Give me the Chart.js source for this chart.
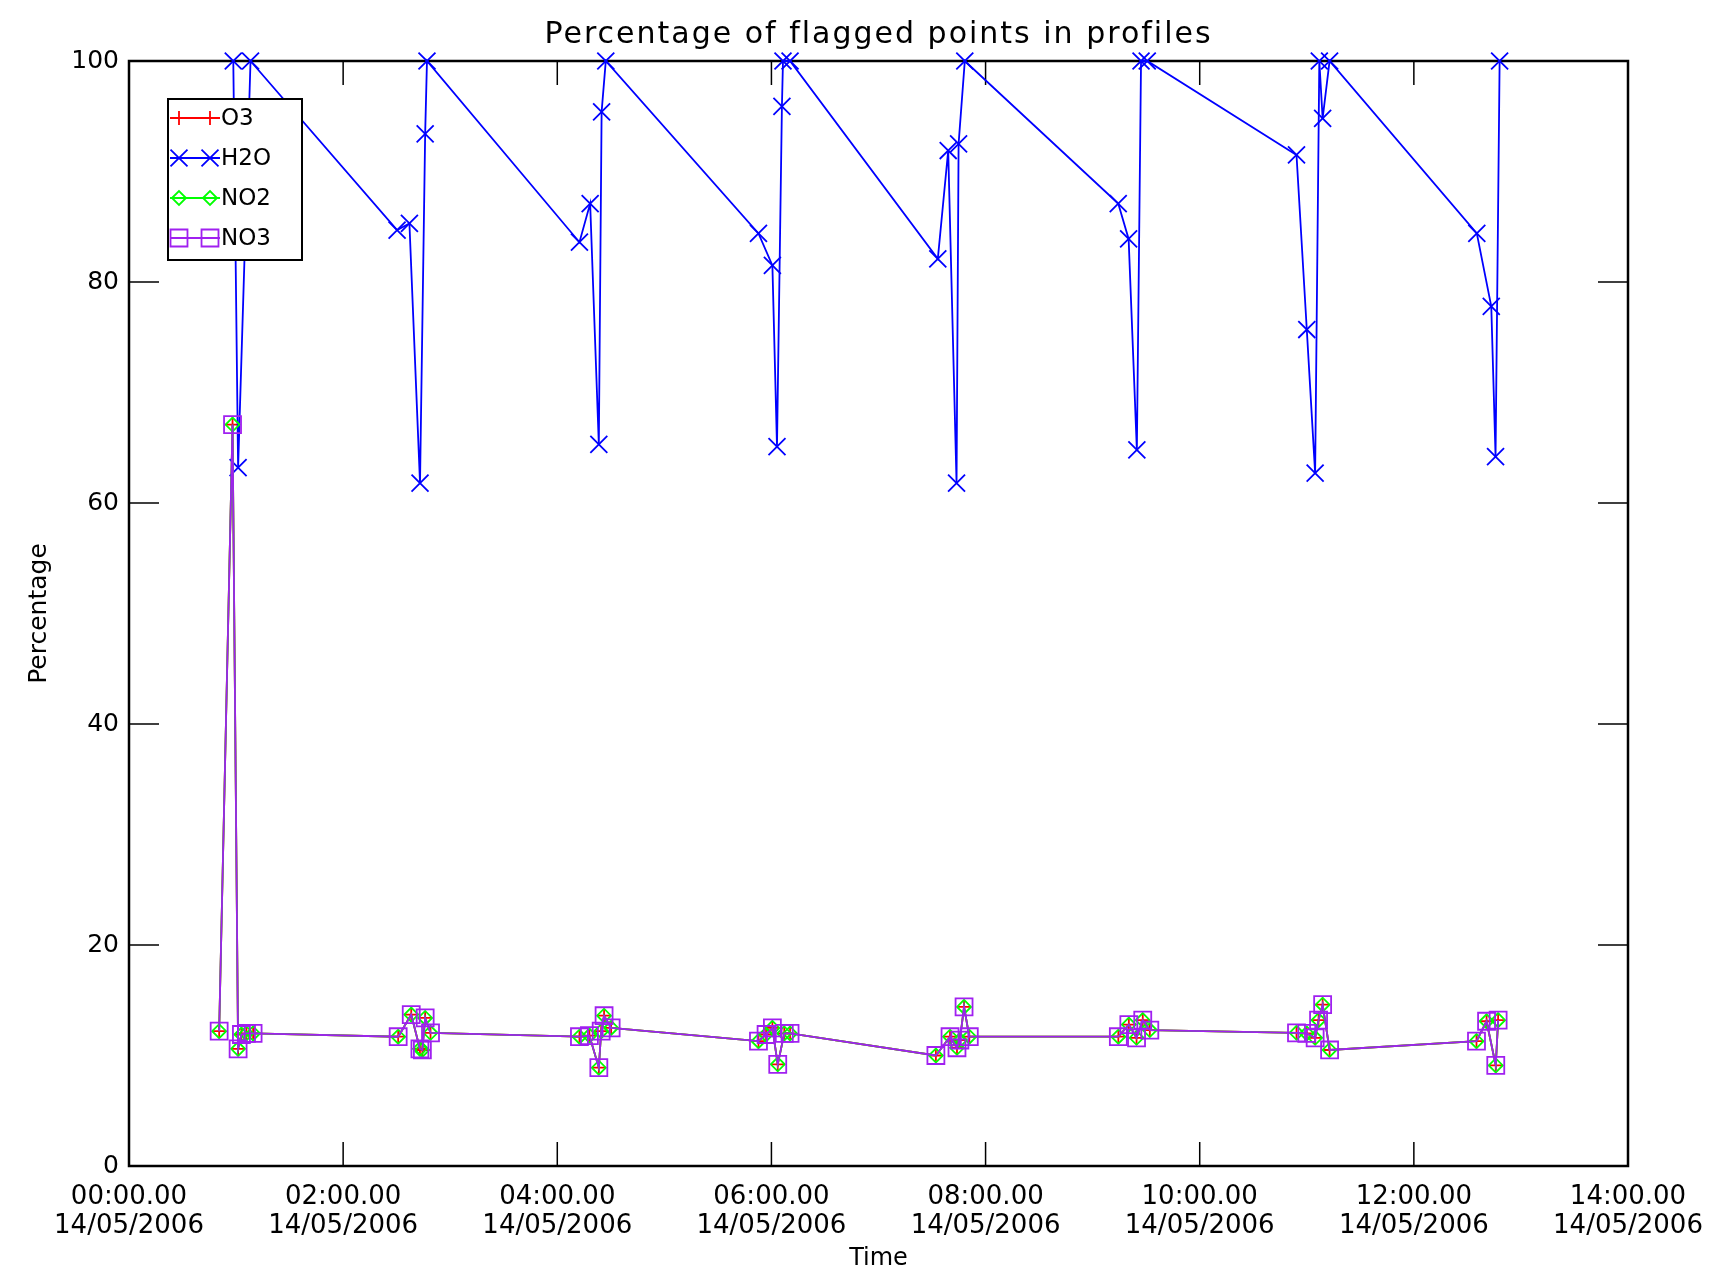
<!DOCTYPE html>
<html>
<head>
<meta charset="utf-8">
<title>Percentage of flagged points in profiles</title>
<script src="https://cdn.jsdelivr.net/npm/chart.js@4.4.1/dist/chart.umd.min.js"></script>
<style>
    html, body { margin: 0; padding: 0; background: #fff; }
    #grafico { display: block; }
</style>
</head>
<body>
<canvas id="grafico" width="1732" height="1281"></canvas>
<script>
/* --- DATA (hours after 00:00 on 14/05/2006) --- */
const h2oHours = [
    0.974, 1.019, 1.135,
    2.504, 2.619, 2.718, 2.766, 2.783,
    4.207, 4.307, 4.388, 4.414, 4.453,
    5.879, 6.009, 6.052, 6.098, 6.108, 6.174,
    7.554, 7.651, 7.729, 7.748, 7.806,
    9.239, 9.336, 9.413, 9.452, 9.510,
    10.904, 11.000, 11.078, 11.117, 11.148, 11.213,
    12.588, 12.723, 12.763, 12.801
];
const h2oPct = [
    100, 63.2, 100,
    84.7, 85.3, 61.8, 93.4, 100,
    83.6, 87.1, 65.3, 95.4, 100,
    84.4, 81.5, 65.1, 95.9, 100, 100,
    82.1, 91.9, 61.8, 92.5, 100,
    87.1, 83.9, 64.8, 100, 100,
    91.5, 75.7, 62.7, 100, 94.8, 100,
    84.4, 77.8, 64.2, 100
];

const gasHours = [
    0.842, 0.967, 1.019, 1.050, 1.097, 1.159,
    2.514, 2.636, 2.717, 2.740, 2.766, 2.816,
    4.207, 4.300, 4.388, 4.410, 4.437, 4.503,
    5.879, 5.950, 6.009, 6.059, 6.120, 6.174,
    7.536, 7.668, 7.733, 7.760, 7.799, 7.848,
    9.240, 9.338, 9.410, 9.468, 9.534,
    10.904, 11.000, 11.078, 11.110, 11.148, 11.213,
    12.585, 12.679, 12.765, 12.787
];
// O3, NO2 and NO3 lie exactly on top of each other in the picture
const o3Pct = [
    12.2, 67.1, 10.6, 11.9, 12.0, 12.0,
    11.7, 13.7, 10.6, 10.5, 13.4, 12.05,
    11.7, 11.8, 8.9, 12.2, 13.6, 12.5,
    11.3, 11.9, 12.5, 9.2, 12.0, 12.0,
    10.0, 11.7, 10.7, 11.4, 14.4, 11.7,
    11.7, 12.8, 11.6, 13.2, 12.3,
    12.05, 12.0, 11.6, 13.2, 14.6, 10.5,
    11.3, 13.1, 9.1, 13.2
];
const no2Pct = o3Pct;
const no3Pct = o3Pct;

const seriesNames = ['O3', 'H2O', 'NO2', 'NO3'];
const xTickHours = [0, 2, 4, 6, 8, 10, 12, 14];
const yTickValues = [0, 20, 40, 60, 80, 100];
const dayLabel = '14/05/2006';
const chartTitle = 'Percentage of flagged points in profiles';

const FONTE = '"DejaVu Sans", sans-serif';
const pares = (xs, ys) => xs.map((x, i) => ({ x, y: ys[i] }));
const horaLabel = h => String(h).padStart(2, '0') + ':00.00';

/* --- PLUGINS: title, box with inward ticks, legend inside the plot --- */
const tituloIDL = {
    id: 'tituloIDL',
    afterDraw(chart) {
        const { ctx, chartArea: a } = chart;
        ctx.save();
        ctx.font = '30px ' + FONTE;
        ctx.letterSpacing = '2px';
        ctx.fillStyle = '#000';
        ctx.textAlign = 'center';
        ctx.textBaseline = 'middle';
        ctx.fillText(chartTitle, (a.left + a.right) / 2, 35);
        ctx.restore();
    }
};

const moldura = {
    id: 'moldura',
    beforeDatasetsDraw(chart) {
        const { ctx, chartArea: a, scales: { x, y } } = chart;
        ctx.save();
        ctx.strokeStyle = '#000';
        ctx.lineWidth = 1.5;
        ctx.beginPath();
        xTickHours.forEach(h => {
            const px = x.getPixelForValue(h);
            ctx.moveTo(px, a.bottom); ctx.lineTo(px, a.bottom - 24);
            ctx.moveTo(px, a.top); ctx.lineTo(px, a.top + 24);
        });
        yTickValues.forEach(v => {
            const py = y.getPixelForValue(v);
            ctx.moveTo(a.left, py); ctx.lineTo(a.left + 30, py);
            ctx.moveTo(a.right, py); ctx.lineTo(a.right - 30, py);
        });
        ctx.stroke();
        ctx.lineWidth = 2.5;
        ctx.strokeRect(a.left, a.top, a.right - a.left, a.bottom - a.top);
        ctx.restore();
    }
};

const legendaInterna = {
    id: 'legendaInterna',
    afterDraw(chart) {
        const { ctx, chartArea: a } = chart;
        const bx = a.left + 39, by = a.top + 38, bw = 134, bh = 161;
        ctx.save();
        ctx.fillStyle = '#fff';
        ctx.fillRect(bx, by, bw, bh);
        ctx.strokeStyle = '#000';
        ctx.lineWidth = 2;
        ctx.strokeRect(bx, by, bw, bh);
        ctx.font = '23px ' + FONTE;
        ctx.textBaseline = 'middle';
        chart.data.datasets.forEach((ds, i) => {
            const ly = by + 19 + i * 40;
            ctx.strokeStyle = ds.borderColor;
            ctx.lineWidth = 1.8;
            ctx.beginPath();
            ctx.moveTo(bx + 2, ly); ctx.lineTo(bx + 52, ly);
            ctx.stroke();
            ctx.fillStyle = 'rgba(0,0,0,0)';
            [bx + 11, bx + 42].forEach(px => Chart.helpers.drawPoint(ctx, {
                pointStyle: ds.pointStyle, radius: ds.pointRadius, borderWidth: 1.8, rotation: 0
            }, px, ly));
            ctx.fillStyle = '#000';
            ctx.fillText(ds.label, bx + 53, ly + 1);
        });
        ctx.restore();
    }
};

/* --- CHART --- */
const serie = (label, data, cor, estilo, raio, ordem) => ({
    label, data, order: ordem,
    borderColor: cor, backgroundColor: cor, borderWidth: 1.8,
    pointStyle: estilo, pointRadius: raio, pointHoverRadius: raio,
    pointBorderColor: cor, pointBackgroundColor: 'rgba(0,0,0,0)', pointBorderWidth: 1.8,
    tension: 0, fill: false, clip: false
});

new Chart(document.getElementById('grafico').getContext('2d'), {
    type: 'line',
    data: {
        datasets: [
            serie(seriesNames[0], pares(gasHours, o3Pct), '#ff0000', 'cross', 7, 3),
            serie(seriesNames[1], pares(h2oHours, h2oPct), '#0000ff', 'crossRot', 12, 2),
            serie(seriesNames[2], pares(gasHours, no2Pct), '#00ff00', 'rectRot', 7, 1),
            serie(seriesNames[3], pares(gasHours, no3Pct), '#a020f0', 'rect', 12, 0)
        ]
    },
    options: {
        responsive: false,
        animation: false,
        devicePixelRatio: 1,
        layout: { padding: { left: 0, top: 61, right: 104, bottom: 0 } },
        plugins: { legend: { display: false }, tooltip: { enabled: false }, title: { display: false } },
        scales: {
            x: {
                type: 'linear', min: 0, max: 14,
                afterFit: s => { s.height = 115; },
                afterBuildTicks: s => { s.ticks = xTickHours.map(value => ({ value })); },
                grid: { display: false, drawTicks: false },
                border: { display: false },
                ticks: {
                    padding: 17, maxRotation: 0, autoSkip: false, color: '#000',
                    font: { family: FONTE, size: 26, lineHeight: 1.12 },
                    callback: v => [horaLabel(v), dayLabel]
                },
                title: { display: true, text: 'Time', color: '#000', font: { family: FONTE, size: 24 }, padding: { top: 0, bottom: 8 } }
            },
            y: {
                min: 0, max: 100,
                afterFit: s => { s.width = 129; },
                afterBuildTicks: s => { s.ticks = yTickValues.map(value => ({ value })); },
                grid: { display: false, drawTicks: false },
                border: { display: false },
                ticks: { padding: 10, color: '#000', font: { family: FONTE, size: 25 } },
                title: { display: true, text: 'Percentage', color: '#000', font: { family: FONTE, size: 25 }, padding: { top: 24 } }
            }
        }
    },
    plugins: [moldura, legendaInterna, tituloIDL]
});
</script>
</body>
</html>
